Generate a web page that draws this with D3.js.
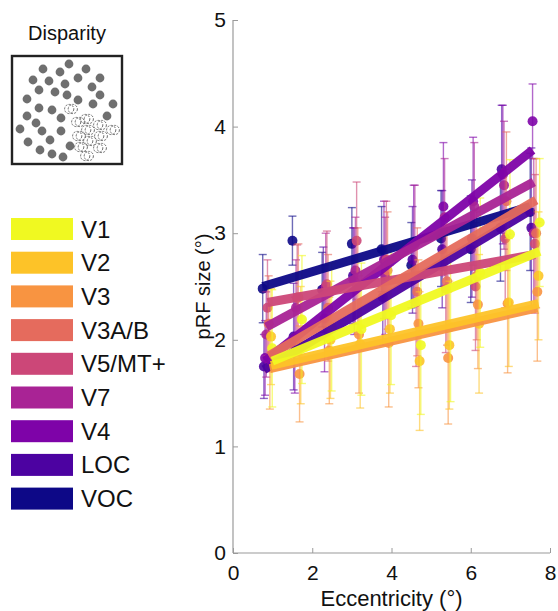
<!DOCTYPE html>
<html>
<head>
<meta charset="utf-8">
<script src="https://cdn.jsdelivr.net/npm/d3@7"></script>
<style>
  body { margin: 0; background: #fff; }
  text { font-family: "Liberation Sans", Arial, Helvetica, sans-serif; fill: #111; }
</style>
</head>
<body>
<script>
// areas, in legend order
var areas = ["V1", "V2", "V3", "V3A/B", "V5/MT+", "V7", "V4", "LOC", "VOC"];
var colors = ["#f0f921", "#fdc328", "#f89441", "#e56b5d", "#cc4778", "#a92395", "#7e03a8", "#4c02a1", "#0d0887"];

// eccentricity bins (deg)
var bins = [0.75, 1.5, 2.25, 3.0, 3.75, 4.5, 5.25, 6.0, 6.75, 7.5];

// mean pRF size per bin, one row per area (same order as areas)
var sizes = [
  [1.92, 2.19, 2.12, 2.10, 2.23, 1.95, 2.12, 2.63, 2.99, 3.10], // V1
  [2.03, 1.95, 2.00, 1.96, 2.10, 1.80, 1.95, 2.15, 2.35, 2.60], // V2
  [1.75, 1.68, 1.90, 2.05, 1.97, 2.15, 1.83, 2.33, 2.34, 2.45], // V3
  [2.15, 2.40, 2.30, 2.50, 2.65, 2.45, 2.55, 2.60, 3.30, 3.00], // V3A/B
  [2.30, 2.39, 2.52, 2.93, 2.75, 2.35, 2.48, 2.50, 2.95, 2.90], // V5/MT+
  [2.05, 2.30, 2.50, 2.65, 2.60, 2.90, 3.15, 3.25, 3.45, 3.00], // V7
  [1.83, 1.95, 2.20, 2.55, 2.75, 2.90, 3.25, 3.30, 3.55, 4.05], // V4
  [1.75, 2.03, 2.47, 2.60, 2.40, 2.75, 2.85, 2.95, 3.60, 3.05], // LOC
  [2.48, 2.93, 2.47, 2.90, 2.85, 2.70, 2.95, 2.85, 3.05, 3.20]  // VOC
];

// error bar half-lengths
var errs = [
  [0.55, 0.60, 0.60, 0.62, 0.65, 0.65, 0.70, 0.70, 0.70, 0.60],
  [0.45, 0.55, 0.55, 0.60, 0.60, 0.65, 0.60, 0.65, 0.60, 0.60],
  [0.40, 0.45, 0.50, 0.55, 0.60, 0.60, 0.62, 0.60, 0.65, 0.65],
  [0.45, 0.50, 0.50, 0.55, 0.55, 0.60, 0.60, 0.60, 0.65, 0.70],
  [0.45, 0.50, 0.50, 0.55, 0.55, 0.60, 0.60, 0.60, 0.65, 0.65],
  [0.40, 0.45, 0.50, 0.50, 0.55, 0.55, 0.55, 0.60, 0.60, 0.70],
  [0.35, 0.45, 0.50, 0.50, 0.55, 0.55, 0.60, 0.60, 0.65, 0.35],
  [0.30, 0.50, 0.40, 0.45, 0.45, 0.50, 0.55, 0.55, 0.60, 0.75],
  [0.32, 0.23, 0.35, 0.34, 0.40, 0.40, 0.45, 0.50, 0.50, 0.55]
];

// linear fit: value at first and last bin
var fitStart = [1.80, 1.76, 1.73, 1.85, 2.35, 2.12, 1.80, 1.72, 2.50];
var fitEnd   = [2.83, 2.34, 2.30, 3.31, 2.80, 3.48, 3.78, 3.22, 3.25];

var xTicks = [0, 2, 4, 6, 8];
var yTicks = [0, 1, 2, 3, 4, 5];

// inset stimulus dots (box units 0..110)
var dotsFilled = [[57,8],[31,13],[48,16],[74,13],[21,24],[37,25],[66,22],[88,22],[53,28],[27,34],
  [80,31],[43,36],[55,39],[15,43],[88,39],[66,44],[27,52],[40,54],[81,48],[101,48],[15,60],[49,62],
  [95,60],[24,67],[8,73],[30,75],[49,75],[16,86],[38,84],[58,90],[28,94],[40,98],[51,101]];
var dotsHollow = [[59,53],[66,66],[75,63],[88,69],[101,74],[76,74],[67,80],[89,80],[78,85],[69,91],[88,92],[75,100]];

var W = 558, H = 611;
var svg = d3.select("body").append("svg").attr("width", W).attr("height", H);

var x = d3.scaleLinear().domain([0, 8]).range([233, 550]);
var y = d3.scaleLinear().domain([0, 5]).range([553, 20]);

// axes (inward ticks, grey)
var xAxis = svg.append("g").attr("transform", "translate(0," + y(0) + ")")
  .call(d3.axisBottom(x).tickValues(xTicks).tickSize(-5).tickPadding(12).tickFormat(d3.format("d")));
var yAxis = svg.append("g").attr("transform", "translate(" + x(0) + ",0)")
  .call(d3.axisLeft(y).tickValues(yTicks).tickSize(-5).tickPadding(7).tickFormat(d3.format("d")));
[xAxis, yAxis].forEach(function(a) {
  a.select(".domain").attr("stroke", "#9a9a9a").attr("stroke-width", 1.2);
  a.selectAll(".tick line").attr("stroke", "#9a9a9a");
  a.selectAll(".tick text").attr("fill", "#111").style("font-size", "21px");
});
// no outer tick stubs beyond domain ends
xAxis.select(".domain").attr("d", "M" + x(0) + ",0H" + x(8));
yAxis.select(".domain").attr("d", "M0," + y(0) + "V" + y(5));

svg.append("text").attr("x", x(4)).attr("y", 606).attr("text-anchor", "middle")
  .style("font-size", "22px").text("Eccentricity (°)");
svg.append("text").attr("transform", "translate(210," + y(2.5) + ") rotate(-90)")
  .attr("text-anchor", "middle").style("font-size", "20px").text("pRF size (°)");

// series x offset so points don't sit on top of each other
function xo(i, b) { return x(bins[b] + (8 - i) * 0.03); }

var plot = svg.append("g");
// draw VOC first, V1 last
var order = d3.range(areas.length).reverse();

order.forEach(function(i) {
  var g = plot.append("g");
  var c = colors[i];
  bins.forEach(function(b, k) {
    var cx = xo(i, k), lo = y(sizes[i][k] - errs[i][k]), hi = y(sizes[i][k] + errs[i][k]);
    g.append("line").attr("x1", cx).attr("x2", cx).attr("y1", lo).attr("y2", hi)
      .attr("stroke", c).attr("stroke-opacity", 0.6).attr("stroke-width", 1.4);
    [lo, hi].forEach(function(yy) {
      g.append("line").attr("x1", cx - 4).attr("x2", cx + 4).attr("y1", yy).attr("y2", yy)
        .attr("stroke", c).attr("stroke-opacity", 0.6).attr("stroke-width", 1.4);
    });
  });
  g.selectAll("circle").data(sizes[i]).enter().append("circle")
    .attr("cx", function(d, k) { return xo(i, k); })
    .attr("cy", function(d) { return y(d); })
    .attr("r", 5).attr("fill", c).attr("fill-opacity", 0.9);
});

order.forEach(function(i) {
  plot.append("line")
    .attr("x1", xo(i, 0)).attr("y1", y(fitStart[i]))
    .attr("x2", xo(i, bins.length - 1)).attr("y2", y(fitEnd[i]))
    .attr("stroke", colors[i]).attr("stroke-width", 9).attr("stroke-opacity", 0.95);
});

// inset
svg.append("text").attr("x", 67).attr("y", 40).attr("text-anchor", "middle")
  .style("font-size", "20px").text("Disparity");
var bx = d3.scaleLinear().domain([0, 110]).range([12, 122]);
var by = d3.scaleLinear().domain([0, 108]).range([56, 164]);
var inset = svg.append("g");
inset.append("rect").attr("x", bx(0)).attr("y", by(0)).attr("width", bx(110) - bx(0)).attr("height", by(108) - by(0))
  .attr("fill", "#fff").attr("stroke", "#222").attr("stroke-width", 2.4);
inset.selectAll(".fd").data(dotsFilled).enter().append("circle")
  .attr("cx", function(d) { return bx(d[0]); }).attr("cy", function(d) { return by(d[1]); })
  .attr("r", 4.4).attr("fill", "#6f6f6f");
dotsHollow.forEach(function(d) {
  [-1.8, 1.8].forEach(function(dx) {
    inset.append("circle").attr("cx", bx(d[0]) + dx).attr("cy", by(d[1])).attr("r", 4.6)
      .attr("fill", "none").attr("stroke", "#6f6f6f").attr("stroke-width", 1)
      .attr("stroke-dasharray", "2.2,1.2");
  });
});

// legend
var leg = svg.append("g");
areas.forEach(function(a, i) {
  var ly = 218 + i * 33.7;
  leg.append("rect").attr("x", 11).attr("y", ly).attr("width", 62).attr("height", 22).attr("fill", colors[i]);
  leg.append("text").attr("x", 81).attr("y", ly + 19.5).style("font-size", "24px").text(a);
});
</script>
</body>
</html>
